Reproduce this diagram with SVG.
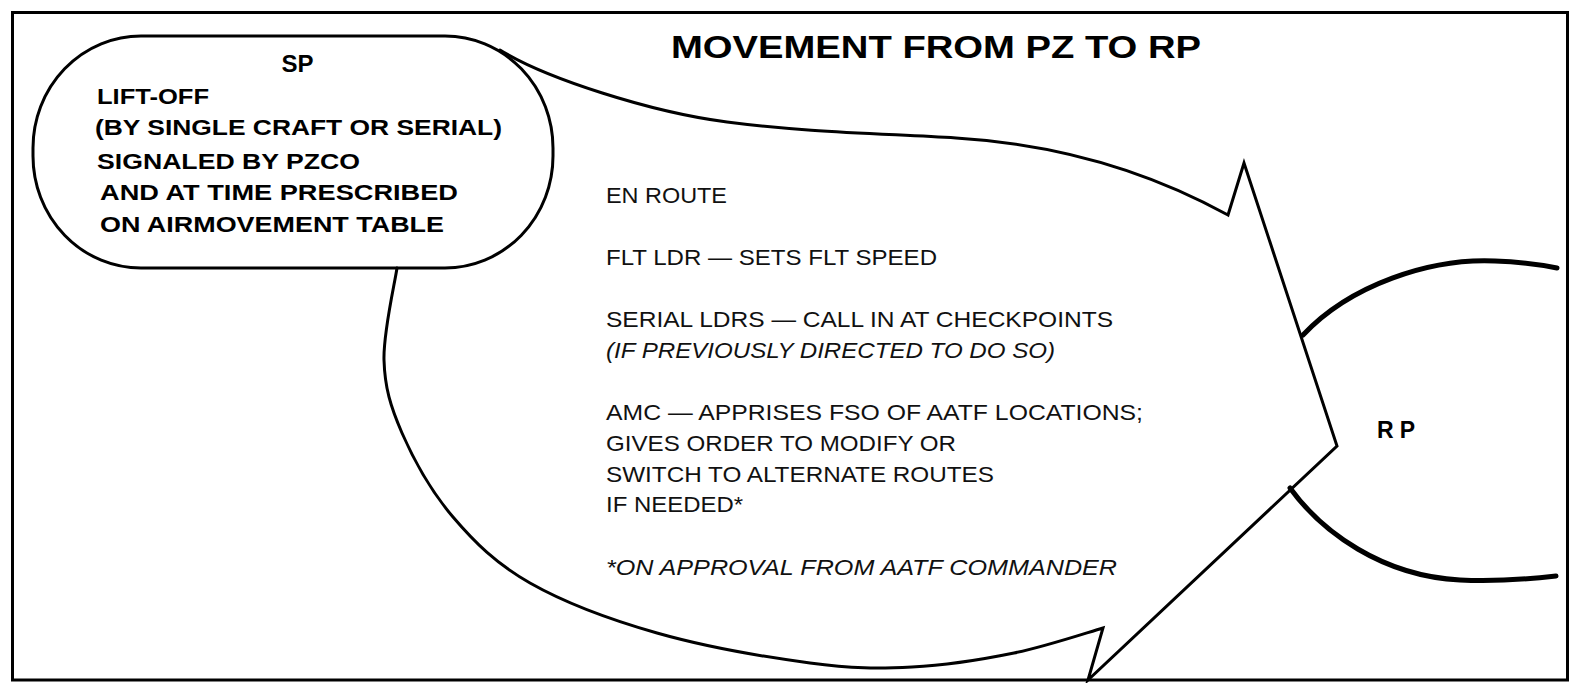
<svg xmlns="http://www.w3.org/2000/svg" width="1571" height="683" viewBox="0 0 1571 683">
<style>
.line{fill:none;stroke:#000;stroke-width:3;stroke-linejoin:miter;stroke-linecap:round}
.rparc{fill:none;stroke:#000;stroke-width:5;stroke-linecap:round}
.b{font-family:"Liberation Sans",Arial,Helvetica,sans-serif;font-weight:bold;fill:#000}
.r{font-family:"Liberation Sans",Arial,Helvetica,sans-serif;font-size:22px;fill:#111}
.i{font-style:italic}
</style>
<rect id="frame" x="12.5" y="12.5" width="1555" height="667.5" fill="#fff" stroke="#000" stroke-width="3"/>
<g id="title">
<text class="b" x="671" y="58" font-size="32" textLength="530" lengthAdjust="spacingAndGlyphs">MOVEMENT FROM PZ TO RP</text>
</g>
<g id="connectors">
<path id="route-arrow" class="line" d="M397,268 C394.8,283.3 383.2,332.5 384,360 C384.8,387.5 390.5,406.8 402,433 C413.5,459.2 431.7,492 453,517 C474.3,542 496,563.7 530,583 C564,602.3 610.3,619.7 657,633 C703.7,646.3 767.5,657.3 810,663 C852.5,668.7 878,668.7 912,667 C946,665.3 982.2,659.5 1014,653 C1045.8,646.5 1088.2,632.2 1103,628 L1088,680 L1337,446 L1244,163 L1228,215 C1138,165.5 1046,143.4 956,138 C880,133.5 803,132 727,122 C650,112 545,78 500,50"/>
</g>
<g id="node-sp">
<rect x="33" y="36" width="520" height="232" rx="108" ry="112" fill="none" stroke="#000" stroke-width="3"/>
<text class="b" x="297.5" y="72" font-size="24" text-anchor="middle">SP</text>
<text class="b" x="97" y="103.5" font-size="22.5" textLength="112" lengthAdjust="spacingAndGlyphs">LIFT-OFF</text>
<text class="b" x="95" y="135" font-size="22.5" textLength="407" lengthAdjust="spacingAndGlyphs">(BY SINGLE CRAFT OR SERIAL)</text>
<text class="b" x="97" y="168.5" font-size="22.5" textLength="263" lengthAdjust="spacingAndGlyphs">SIGNALED BY PZCO</text>
<text class="b" x="100" y="200" font-size="22.5" textLength="358" lengthAdjust="spacingAndGlyphs">AND AT TIME PRESCRIBED</text>
<text class="b" x="100" y="231.5" font-size="22.5" textLength="344" lengthAdjust="spacingAndGlyphs">ON AIRMOVEMENT TABLE</text>
</g>
<g id="node-en-route">
<text class="r" x="606" y="203" textLength="121" lengthAdjust="spacingAndGlyphs">EN ROUTE</text>
<text class="r" x="606" y="265" textLength="331" lengthAdjust="spacingAndGlyphs">FLT LDR — SETS FLT SPEED</text>
<text class="r" x="606" y="327" textLength="507" lengthAdjust="spacingAndGlyphs">SERIAL LDRS — CALL IN AT CHECKPOINTS</text>
<text class="r i" x="606" y="358" textLength="449" lengthAdjust="spacingAndGlyphs">(IF PREVIOUSLY DIRECTED TO DO SO)</text>
<text class="r" x="606" y="420" textLength="537" lengthAdjust="spacingAndGlyphs">AMC — APPRISES FSO OF AATF LOCATIONS;</text>
<text class="r" x="606" y="451" textLength="350" lengthAdjust="spacingAndGlyphs">GIVES ORDER TO MODIFY OR</text>
<text class="r" x="606" y="482" textLength="388" lengthAdjust="spacingAndGlyphs">SWITCH TO ALTERNATE ROUTES</text>
<text class="r" x="606" y="512" textLength="137" lengthAdjust="spacingAndGlyphs">IF NEEDED*</text>
<text class="r i" x="606" y="575" textLength="511" lengthAdjust="spacingAndGlyphs">*ON APPROVAL FROM AATF COMMANDER</text>
</g>
<g id="node-rp">
<path class="rparc" d="M1303,335 C1350,285 1430,258 1495,261 C1522,262 1542,265 1557,268"/>
<path class="rparc" d="M1290,488 C1322,532 1382,576 1460,580 C1500,582 1530,579 1556,576"/>
<text class="b" x="1377" y="438" font-size="23" textLength="38">RP</text>
</g>
</svg>
